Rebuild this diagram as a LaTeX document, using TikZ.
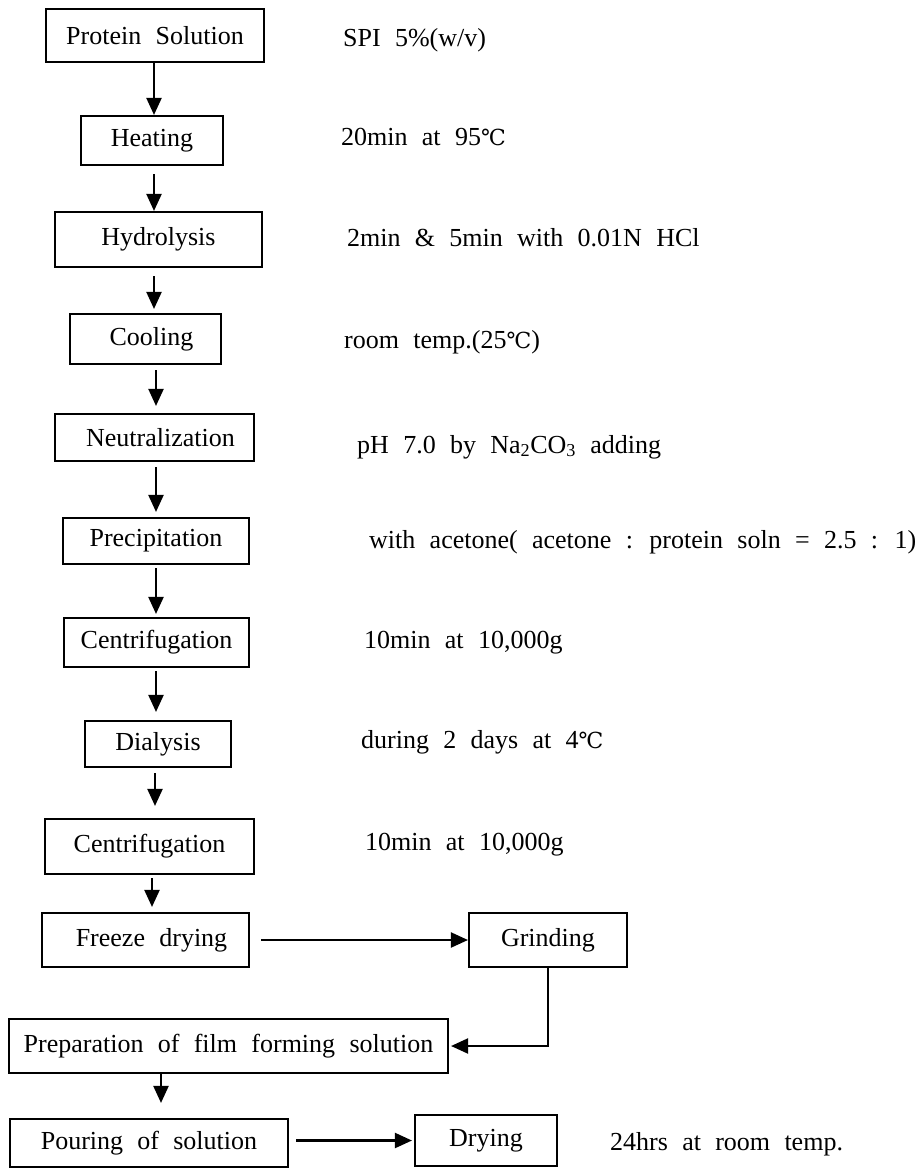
\documentclass[tikz,border=0pt]{standalone}
\usepackage{fontspec}
\setmainfont{Liberation Serif}[WordSpace=2.2]
\newfontfamily\symf{DejaVu Serif}[Scale=0.85]
\usetikzlibrary{arrows.meta}
\newcommand{\degC}{{\symf ℃}}
\tikzset{
  stepbox/.style={draw, line width=2.1pt, inner sep=0pt, font=\fontsize{26}{30}\selectfont},
  note/.style={anchor=base west, inner sep=0pt, font=\fontsize{26}{30}\selectfont},
  arr/.style={line width=2.1pt, -{Triangle[width=15pt,length=17pt]}}
}
\begin{document}
\begin{tikzpicture}[x=1pt,y=-1pt]
\useasboundingbox (0,0) rectangle (921,1169);
% boxes
\node[stepbox, minimum width=218pt, minimum height=53pt] (ps) at (155,35.5) {Protein Solution};
\node[stepbox, minimum width=142pt, minimum height=49pt] (heat) at (152,140.5) {Heating};
\node[stepbox, minimum width=207pt, minimum height=55pt] (hyd) at (158.5,239.5) {Hydrolysis};
\node[stepbox, minimum width=151pt, minimum height=50pt] (cool) at (145.5,339) {\hspace*{12pt}Cooling};
\node[stepbox, minimum width=199pt, minimum height=47pt] (neut) at (154.5,437.5) {\hspace*{12pt}Neutralization};
\node[stepbox, minimum width=186pt, minimum height=46pt] (prec) at (156,541) {Precipitation};
\node[stepbox, minimum width=185pt, minimum height=49pt] (cen1) at (156.5,642.5) {Centrifugation};
\node[stepbox, minimum width=146pt, minimum height=46pt] (dial) at (158,744) {Dialysis};
\node[stepbox, minimum width=209pt, minimum height=55pt] (cen2) at (149.5,846.5) {Centrifugation};
\node[stepbox, minimum width=207pt, minimum height=54pt] (freeze) at (145.5,940) {\hspace*{12pt}Freeze drying};
\node[stepbox, minimum width=158pt, minimum height=54pt] (grind) at (548,940) {Grinding};
\node[stepbox, minimum width=439pt, minimum height=54pt] (prep) at (228.5,1046) {Preparation of film forming solution};
\node[stepbox, minimum width=278pt, minimum height=48pt] (pour) at (149,1143) {Pouring of solution};
\node[stepbox, minimum width=142pt, minimum height=51pt] (dry) at (486,1140.5) {Drying};
% notes
\node[note] (n1) at (343,47) {SPI 5\%(w/v)};
\node[note] (n2) at (341,146) {20min at 95\degC};
\node[note] (n3) at (347,246) {2min \& 5min with 0.01N HCl};
\node[note] (n4) at (344,348) {room temp.(25\degC)};
\node[note] (n5) at (357,453) {pH 7.0 by Na\textsubscript{2}CO\textsubscript{3} adding};
\node[note] (n6) at (369,548) {with acetone( acetone : protein soln = 2.5 : 1)};
\node[note] (n7) at (364,648) {10min at 10,000g};
\node[note] (n8) at (361,748) {during 2 days at 4\degC};
\node[note] (n9) at (365,850) {10min at 10,000g};
\node[note] (n10) at (610,1150) {24hrs at room temp.};
% arrow columns
\coordinate (xa) at (154,0);
\coordinate (xb) at (156,0);
\coordinate (xc) at (152,0);
\coordinate (xd) at (161,0);
\coordinate (xe) at (155,0);
% connectors
\draw[arr] (ps.south -| xa) -- (heat.north -| xa);
\draw[arr, shorten <=8pt] (heat.south -| xa) -- (hyd.north -| xa);
\draw[arr, shorten <=8pt, shorten >=4pt] (hyd.south -| xa) -- (cool.north -| xa);
\draw[arr, shorten <=5pt, shorten >=7pt] (cool.south -| xb) -- (neut.north -| xb);
\draw[arr, shorten <=5pt, shorten >=5pt] (neut.south -| xb) -- (prec.north -| xb);
\draw[arr, shorten <=3pt, shorten >=3pt] (prec.south -| xb) -- (cen1.north -| xb);
\draw[arr, shorten <=3pt, shorten >=8pt] (cen1.south -| xb) -- (dial.north -| xb);
\draw[arr, shorten <=5pt, shorten >=12pt] (dial.south -| xe) -- (cen2.north -| xe);
\draw[arr, shorten <=3pt, shorten >=5pt] (cen2.south -| xc) -- (freeze.north -| xc);
\draw[arr, shorten <=11pt] (freeze.east) -- (grind.west);
\draw[arr] (grind.south) |- ([xshift=2pt]prep.east);
\draw[arr, shorten >=15pt] (prep.south -| xd) -- (pour.north -| xd);
\draw[arr, shorten <=7pt, shorten >=2pt] (pour.east |- dry.west) -- (dry.west);
\end{tikzpicture}
\end{document}
